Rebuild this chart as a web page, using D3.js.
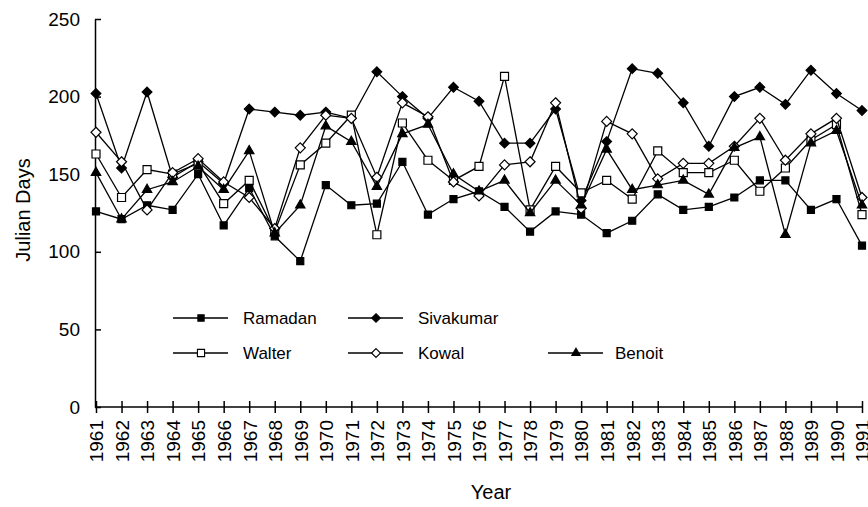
<!DOCTYPE html>
<html>
<head>
<meta charset="utf-8">
<script src="https://cdn.jsdelivr.net/npm/d3@7"></script>
<style>
  body { margin: 0; background: #fff; }
  svg { display: block; font-family: "Liberation Sans", Arial, Helvetica, sans-serif; }
  .axis path, .axis line { stroke: #000; stroke-width: 1.5; }
  .series { fill: none; stroke: #000; stroke-width: 1.3; }
</style>
</head>
<body>
<div id="chart"></div>
<script>
// Years 1961-1991 and Julian day of each author's estimate
const years = d3.range(1961, 1992);
const yTicks = [0, 50, 100, 150, 200, 250];

const ramadan   = [126, 121, 130, 127, 150, 117, 141, 110, 94, 143, 130, 131, 158, 124, 134, 139, 129, 113, 126, 124, 112, 120, 137, 127, 129, 135, 146, 146, 127, 134, 104];
const sivakumar = [202, 154, 203, 148, 158, 144, 192, 190, 188, 190, 186, 216, 200, 186, 206, 197, 170, 170, 192, 133, 171, 218, 215, 196, 168, 200, 206, 195, 217, 202, 191];
const walter    = [163, 135, 153, 150, 157, 131, 146, 113, 156, 170, 188, 111, 183, 159, 146, 155, 213, 127, 155, 138, 146, 134, 165, 151, 151, 159, 139, 154, 172, 182, 124];
const kowal     = [177, 158, 127, 151, 160, 145, 135, 115, 167, 188, 186, 148, 196, 187, 145, 136, 156, 158, 196, 128, 184, 176, 147, 157, 157, 168, 186, 159, 176, 186, 135];
const benoit    = [151, 121, 140, 145, 155, 140, 165, 112, 130, 181, 171, 142, 176, 182, 150, 139, 146, 125, 146, 130, 166, 140, 143, 146, 137, 167, 174, 111, 170, 178, 130];

const seriesNames = ['Ramadan', 'Sivakumar', 'Walter', 'Kowal', 'Benoit'];
const seriesValues = [ramadan, sivakumar, walter, kowal, benoit];

// marker look per series
const markers = {
  Ramadan:   { type: d3.symbolSquare,   size: 49, fill: '#000' },
  Sivakumar: { type: d3.symbolDiamond2, size: 60, fill: '#000' },
  Walter:    { type: d3.symbolSquare,   size: 64, fill: '#fff' },
  Kowal:     { type: d3.symbolDiamond2, size: 64, fill: '#fff' },
  Benoit:    { type: d3.symbolTriangle, size: 38, fill: '#000' }
};

const W = 868, H = 507;
const svg = d3.select('#chart').append('svg')
  .attr('width', W)
  .attr('height', H);

const x = d3.scaleLinear().domain([1961, 1991]).range([96, 862]);
const y = d3.scaleLinear().domain([0, 250]).range([407, 19]);

/* ---------- axes ---------- */

const xAxis = svg.append('g')
  .attr('class', 'axis')
  .attr('transform', `translate(0,${y(0)})`)
  .call(d3.axisBottom(x).tickValues(years).tickFormat(d3.format('d'))
    .tickSizeInner(6).tickSizeOuter(0).tickPadding(14));
xAxis.select('.domain').attr('d', `M${x(1961) - 1},0H${x(1991) + 1}`);
xAxis.selectAll('.tick line').attr('y1', -6);
xAxis.selectAll('.tick text')
  .attr('font-size', 19)
  .attr('fill', '#000')
  .attr('transform', 'rotate(-90)')
  .attr('text-anchor', 'end')
  .attr('x', -13)
  .attr('y', 0)
  .attr('dy', '0.36em');

const yAxis = svg.append('g')
  .attr('class', 'axis')
  .attr('transform', `translate(${x(1961) - 1},0)`)
  .call(d3.axisLeft(y).tickValues(yTicks).tickSizeInner(6).tickSizeOuter(0).tickPadding(9));
yAxis.selectAll('.tick line').attr('x2', 6);
yAxis.selectAll('.tick text').attr('font-size', 19).attr('fill', '#000');

svg.append('text')
  .attr('x', 491)
  .attr('y', 499)
  .attr('text-anchor', 'middle')
  .attr('font-size', 20)
  .text('Year');

svg.append('text')
  .attr('transform', 'translate(30,210) rotate(-90)')
  .attr('text-anchor', 'middle')
  .attr('font-size', 20)
  .text('Julian Days');

/* ---------- series ---------- */

const line = d3.line()
  .x((d, i) => x(years[i]))
  .y(d => y(d));

seriesNames.forEach((name, k) => {
  const vals = seriesValues[k];
  const m = markers[name];
  svg.append('path')
    .datum(vals)
    .attr('class', 'series')
    .attr('d', line);
  svg.append('g').selectAll('path')
    .data(vals)
    .enter().append('path')
    .attr('transform', (d, i) => `translate(${x(years[i])},${y(d)})`)
    .attr('d', d3.symbol().type(m.type).size(m.size))
    .attr('fill', m.fill)
    .attr('stroke', '#000')
    .attr('stroke-width', 1.2);
});

/* ---------- legend ---------- */

const legendItems = [
  { name: 'Ramadan',   x0: 173, yy: 318 },
  { name: 'Sivakumar', x0: 348, yy: 318 },
  { name: 'Walter',    x0: 173, yy: 353 },
  { name: 'Kowal',     x0: 348, yy: 353 },
  { name: 'Benoit',    x0: 548, yy: 353 }
];

const legend = svg.append('g');
legendItems.forEach(it => {
  const m = markers[it.name];
  const g = legend.append('g').attr('transform', `translate(${it.x0},${it.yy})`);
  g.append('line')
    .attr('x1', 0).attr('x2', 55)
    .attr('stroke', '#000').attr('stroke-width', 1.3);
  g.append('path')
    .attr('transform', 'translate(28,0)')
    .attr('d', d3.symbol().type(m.type).size(m.size * 0.8))
    .attr('fill', m.fill)
    .attr('stroke', '#000')
    .attr('stroke-width', 1.1);
  g.append('text')
    .attr('x', it.name === 'Benoit' ? 67 : 70)
    .attr('y', 0)
    .attr('dy', '0.35em')
    .attr('font-size', 17)
    .text(it.name);
});
</script>
</body>
</html>
